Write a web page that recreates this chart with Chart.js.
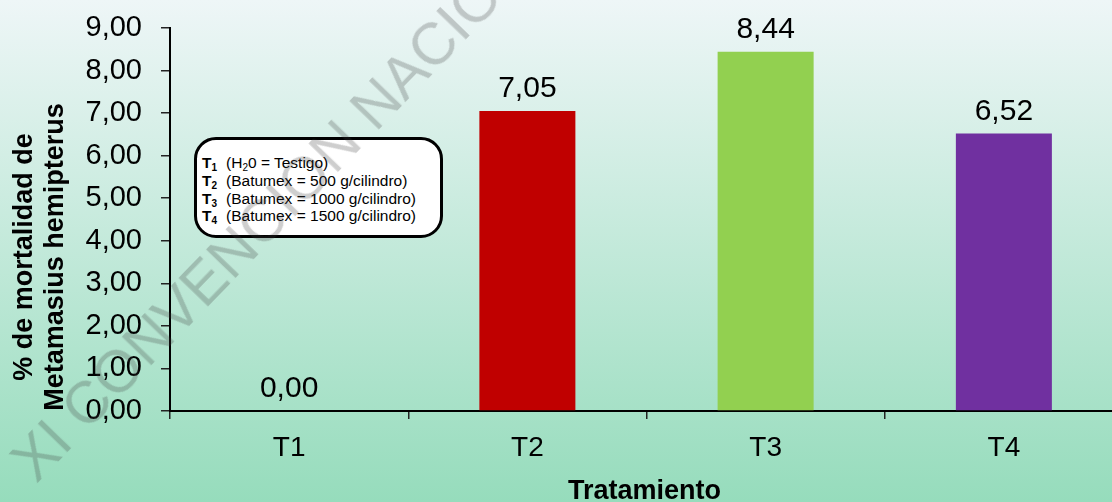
<!DOCTYPE html>
<html>
<head>
<meta charset="utf-8">
<script src="https://cdn.jsdelivr.net/npm/chart.js@4.4.0/dist/chart.umd.min.js"></script>
<style>
  html, body { margin: 0; padding: 0; overflow: hidden; }
  body {
    width: 1112px;
    height: 502px;
    position: relative;
    background: linear-gradient(to bottom, #eef6f7 0%, #96dcbc 100%);
    font-family: "Liberation Sans", Arial, sans-serif;
  }
  #wrap { position: absolute; left: 0; top: 0; width: 1124px; height: 502px; }
  #legendBox {
    position: absolute;
    left: 194px;
    top: 137px;
    width: 249px;
    height: 101px;
    box-sizing: border-box;
    border: 3px solid #000;
    border-radius: 22px;
    background: #fff;
    padding: 14px 0 0 5px;
    font-size: 15.5px;
    line-height: 17.8px;
    color: #000;
    white-space: nowrap;
  }
  #legendBox sub { font-size: 10px; vertical-align: -3px; line-height: 0; }
  #legendBox .gap { display: inline-block; width: 9px; }
  #watermark {
    position: absolute;
    left: 37px;
    top: 435px;
    font-size: 59px;
    line-height: 1;
    color: rgba(60, 60, 60, 0.25);
    white-space: nowrap;
    transform-origin: 0 50px;
    transform: rotate(-46deg);
    pointer-events: none;
  }
</style>
</head>
<body>
<div id="wrap"><canvas id="chart" width="1124" height="502"></canvas></div>
<div id="legendBox">
  <b>T<sub>1</sub></b><span class="gap"></span>(H<sub>2</sub>0 = Testigo)<br>
  <b>T<sub>2</sub></b><span class="gap"></span>(Batumex = 500 g/cilindro)<br>
  <b>T<sub>3</sub></b><span class="gap"></span>(Batumex = 1000 g/cilindro)<br>
  <b>T<sub>4</sub></b><span class="gap"></span>(Batumex = 1500 g/cilindro)
</div>
<div id="watermark">XI CONVENCION NACIONAL</div>
<script>
const categories = ["T1", "T2", "T3", "T4"];
const mortality = [0.0, 7.05, 8.44, 6.52];
const barColors = ["#4472c4", "#c00000", "#92d050", "#7030a0"];
const yMin = 0;
const yMax = 9;
const yStep = 1;
const yTitleLines = ["% de mortalidad de", "Metamasius hemipterus"];
const xTitle = "Tratamiento";

const FONT = "'Liberation Sans', Arial, sans-serif";
const comma = (v) => v.toFixed(2).replace(".", ",");

// value on top of each bar
const valueLabels = {
  id: "valueLabels",
  afterDatasetsDraw(chart) {
    const ctx = chart.ctx;
    const meta = chart.getDatasetMeta(0);
    ctx.save();
    ctx.fillStyle = "#000";
    ctx.font = "30px " + FONT;
    ctx.textAlign = "center";
    ctx.textBaseline = "alphabetic";
    meta.data.forEach((bar, i) => {
      ctx.fillText(comma(mortality[i]), bar.x, bar.y - 14);
    });
    ctx.restore();
  },
};

// axis titles drawn by hand so they sit where the original has them
const axisTitles = {
  id: "axisTitles",
  afterDraw(chart) {
    const ctx = chart.ctx;
    const area = chart.chartArea;
    ctx.save();
    ctx.fillStyle = "#000";
    ctx.font = "bold 27px " + FONT;
    ctx.textAlign = "center";
    ctx.textBaseline = "alphabetic";
    const xs = [32, 63];
    yTitleLines.forEach((line, i) => {
      ctx.save();
      ctx.translate(xs[i], 257);
      ctx.rotate(-Math.PI / 2);
      ctx.fillText(line, 0, 0);
      ctx.restore();
    });
    ctx.fillText(xTitle, (area.left + area.right) / 2 - 2, 499);
    ctx.restore();
  },
};

new Chart(document.getElementById("chart"), {
  type: "bar",
  data: {
    labels: categories,
    datasets: [
      {
        data: mortality,
        backgroundColor: barColors,
        borderWidth: 0,
        barPercentage: 0.403,
        categoryPercentage: 1,
      },
    ],
  },
  options: {
    responsive: false,
    animation: false,
    layout: { padding: { top: 28, right: 1, left: 0, bottom: 0 } },
    plugins: {
      legend: { display: false },
      tooltip: { enabled: false },
    },
    scales: {
      x: {
        offset: true,
        grid: {
          offset: true,
          drawOnChartArea: false,
          drawTicks: true,
          tickLength: 8,
          color: "#222",
          lineWidth: 1.5,
        },
        border: { display: true, color: "#000", width: 2 },
        ticks: {
          color: "#000",
          font: { size: 28, family: FONT },
          padding: 12,
          maxRotation: 0,
        },
        afterFit: (s) => { s.height = 91; },
      },
      y: {
        min: yMin,
        max: yMax,
        grid: {
          drawOnChartArea: false,
          drawTicks: true,
          tickLength: 9,
          color: "#222",
          lineWidth: 1.5,
        },
        border: { display: true, color: "#000", width: 2 },
        ticks: {
          stepSize: yStep,
          color: "#000",
          font: { size: 29, family: FONT },
          padding: 19,
          callback: (v) => comma(v),
        },
        afterFit: (s) => {
          s.width = 170;
          s.paddingTop = 0;
          s.paddingBottom = 0;
        },
      },
    },
  },
  plugins: [valueLabels, axisTitles],
});
</script>
</body>
</html>
